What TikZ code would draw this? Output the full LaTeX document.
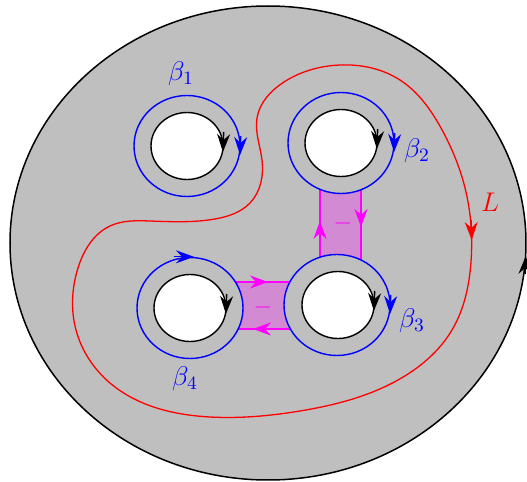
\documentclass[tikz,border=0pt]{standalone}
\usepackage{fix-cm}
\usetikzlibrary{shapes.geometric,arrows.meta,hobby}
\definecolor{bandpink}{RGB}{210,138,210}
\definecolor{mag}{RGB}{255,0,255}
\definecolor{bl}{RGB}{0,0,255}
\definecolor{rd}{RGB}{255,0,0}
\begin{document}
\begin{tikzpicture}[x=0.5pt,y=-0.5pt,
  surface/.style={ellipse,draw=black,fill=gray!50,line width=0.75pt,inner sep=0pt,minimum width=258pt,minimum height=237pt},
  hole/.style={ellipse,draw=black,fill=white,line width=0.7pt,inner sep=0pt,minimum width=36pt,minimum height=33.5pt},
  betacurve/.style={ellipse,draw=bl,fill=gray!50,line width=0.7pt,inner sep=0pt,minimum width=53pt,minimum height=50.5pt},
  band/.style={fill=bandpink,draw=mag,line width=0.6pt},
  tipa/.style={-{Stealth[length=9pt,width=6.5pt,inset=3pt]}},
  lbl/.style={font=\fontsize{13.5}{16}\selectfont,inner sep=0pt},
  minus/.style={font=\fontsize{12}{14}\selectfont,text=mag,inner sep=0pt}]
\useasboundingbox (0,0) rectangle (527,482);
% surface
\node[surface] (S) at (268,243) {};
% bands
\path[band] (320,175) rectangle (361,272);
\path[band] (225,282) rectangle (300,329);
% beta curves
\node[betacurve] (b1) at (187,146) {};
\node[betacurve] (b2) at (341,143) {};
\node[betacurve] (b3) at (337,305) {};
\node[betacurve] (b4) at (190,308) {};
% holes
\node[hole] (h1) at (187,146) {};
\node[hole] (h2) at (341,143) {};
\node[hole] (h3) at (338,305) {};
\node[hole] (h4) at (190,308) {};
% band arrows and signs
\draw[mag,line width=0.6pt,tipa] (320,240) -- (320,221);
\draw[mag,line width=0.6pt,tipa] (361,208) -- (361,227);
\draw[mag,line width=0.6pt,tipa] (248,282) -- (268,282);
\draw[mag,line width=0.6pt,tipa] (273,329) -- (253,329);
\node[minus] (m1) at (343,224) {$-$};
\node[minus] (m2) at (263,308) {$-$};
% black arrows on holes
\foreach \n in {h1,h2,h3,h4}{
  \draw[black,line width=0.7pt,tipa] ([yshift=7pt]\n.east) -- ([yshift=-3pt,xshift=-0.4pt]\n.east);
}
% blue arrows
\foreach \n in {b1,b2,b3}{
  \draw[bl,line width=0.7pt,tipa] ([yshift=5pt]\n.east) -- ([yshift=-4.5pt,xshift=-0.3pt]\n.east);
}
\draw[bl,line width=0.7pt,tipa] ([xshift=-8pt]b4.north) -- ([xshift=2pt]b4.north);
% boundary arrow
\draw[black,line width=0.75pt,tipa] (525.0,274) -- (525.8,256);
% curve L
\draw[rd,line width=0.65pt] plot[closed hobby] coordinates {
 (257,118) (262,160) (250,203) (215,219) (150,221) (110,226) (78,268) (76,330)
 (110,383) (210,417) (300,411) (398,380) (452,330) (471,262) (466,192)
 (441,128) (400,80) (340,65) (284,82)};
\coordinate (Lt) at (471.2,220);
\coordinate (Lh) at (471.7,240);
\draw[rd,line width=0.65pt,tipa] (Lt) -- (Lh);
% labels
\node[lbl,text=bl] (l1) at (181,74) {$\beta_1$};
\node[lbl,text=bl] (l2) at (417,151) {$\beta_2$};
\node[lbl,text=bl] (l3) at (412,321) {$\beta_3$};
\node[lbl,text=bl] (l4) at (185,379) {$\beta_4$};
\node[lbl,text=rd] (lL) at (490,202) {$L$};
\end{tikzpicture}
\end{document}
